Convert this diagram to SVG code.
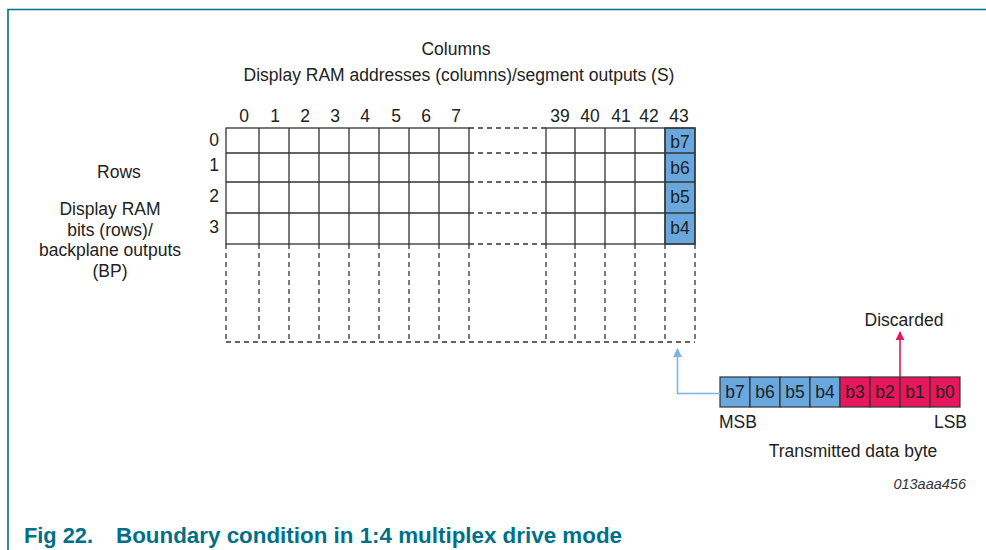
<svg xmlns="http://www.w3.org/2000/svg" width="986" height="550" viewBox="0 0 986 550">
<style>
text{font-family:"Liberation Sans",Arial,sans-serif;font-size:17.5px;fill:#222}
.m{text-anchor:middle}
.g{stroke:#333;stroke-width:1.3;fill:none}
.d{stroke:#333;stroke-width:1.3;fill:none;stroke-dasharray:5 4}
.blue{fill:#68a8de;stroke:#333;stroke-width:1.2}
.red{fill:#e6175c;stroke:#333;stroke-width:1.2}
.frame{stroke:#00708a;stroke-width:1.6;fill:none}
</style>
<defs>
<marker id="ab" viewBox="0 0 10 10" refX="9" refY="5" markerWidth="9" markerHeight="9" markerUnits="userSpaceOnUse" orient="auto"><path d="M0,0 L10,5 L0,10 z" fill="#7db4e4"/></marker>
<marker id="ar" viewBox="0 0 10 10" refX="9" refY="5" markerWidth="9" markerHeight="9" markerUnits="userSpaceOnUse" orient="auto"><path d="M0,0 L10,5 L0,10 z" fill="#e6175c"/></marker>
</defs>
<rect width="986" height="550" fill="#fff"/>
<path class="frame" d="M8,550 V9.5 H986"/>

<g id="titles">
<text class="m" x="456" y="55">Columns</text>
<text class="m" x="459" y="81">Display RAM addresses (columns)/segment outputs (S)</text>
</g>
<g id="col-labels">
<text class="m" x="244" y="122">0</text>
<text class="m" x="275" y="122">1</text>
<text class="m" x="305" y="122">2</text>
<text class="m" x="335" y="122">3</text>
<text class="m" x="365" y="122">4</text>
<text class="m" x="396" y="122">5</text>
<text class="m" x="426" y="122">6</text>
<text class="m" x="456" y="122">7</text>
<text class="m" x="560" y="122">39</text>
<text class="m" x="590" y="122">40</text>
<text class="m" x="621" y="122">41</text>
<text class="m" x="649" y="122">42</text>
<text class="m" x="679" y="122">43</text>
</g>
<g id="row-labels">
<text class="m" x="214" y="146">0</text>
<text class="m" x="214" y="171">1</text>
<text class="m" x="214" y="202">2</text>
<text class="m" x="214" y="233">3</text>
</g>
<g id="rows-title">
<text class="m" x="119" y="178">Rows</text>
<text class="m" x="110" y="215">Display RAM</text>
<text class="m" x="110" y="235.5">bits (rows)/</text>
<text class="m" x="110" y="256">backplane outputs</text>
<text class="m" x="110" y="276.5">(BP)</text>
</g>

<g id="ram-grid">
<rect class="blue" x="665" y="128" width="30" height="116"/>
<rect class="g" x="226" y="128" width="243" height="116"/>
<rect class="g" x="546" y="128" width="149" height="116"/>
<path class="g" d="M226,153H469M226,182H469M226,213H469M546,153H695M546,182H695M546,213H695
M259,128V244M289,128V244M319,128V244M349,128V244M379,128V244M409,128V244M439,128V244
M575,128V244M605,128V244M635,128V244M665,128V244"/>
<path class="d" d="M469,128H546M469,153H546M469,182H546M469,213H546M469,244H546
M226,244V342M259,244V342M289,244V342M319,244V342M349,244V342M379,244V342M409,244V342M439,244V342M469,244V342
M546,244V342M575,244V342M605,244V342M635,244V342M665,244V342M695,244V342M226,342H695"/>
<text class="m" x="680" y="148">b7</text>
<text class="m" x="680" y="174">b6</text>
<text class="m" x="680" y="203">b5</text>
<text class="m" x="680" y="234">b4</text>
</g>

<g id="data-byte">
<rect class="blue" x="720" y="377" width="30" height="30"/>
<rect class="blue" x="750" y="377" width="30" height="30"/>
<rect class="blue" x="780" y="377" width="30" height="30"/>
<rect class="blue" x="810" y="377" width="30" height="30"/>
<rect class="red" x="840" y="377" width="30" height="30"/>
<rect class="red" x="870" y="377" width="30" height="30"/>
<rect class="red" x="900" y="377" width="30" height="30"/>
<rect class="red" x="930" y="377" width="30" height="30"/>
<text class="m" x="735" y="398">b7</text>
<text class="m" x="765" y="398">b6</text>
<text class="m" x="795" y="398">b5</text>
<text class="m" x="825" y="398">b4</text>
<text class="m" x="855" y="398">b3</text>
<text class="m" x="885" y="398">b2</text>
<text class="m" x="915" y="398">b1</text>
<text class="m" x="945" y="398">b0</text>
<text x="719" y="428">MSB</text>
<text x="967" y="428" text-anchor="end">LSB</text>
<text class="m" x="853" y="457">Transmitted data byte</text>
</g>
<g id="discarded">
<text class="m" x="904" y="326">Discarded</text>
</g>

<g id="connectors">
<path d="M720,393.5H677.5V349" fill="none" stroke="#7db4e4" stroke-width="1.6" marker-end="url(#ab)"/>
<path d="M900,377V332" fill="none" stroke="#e6175c" stroke-width="1.6" marker-end="url(#ar)"/>
</g>

<g id="caption">
<text x="966" y="489" text-anchor="end" style="font-style:italic;font-size:14.5px;fill:#333">013aaa456</text>
<text x="24" y="543" style="font-weight:bold;font-size:22.5px;fill:#00708a" textLength="69" lengthAdjust="spacingAndGlyphs">Fig 22.</text>
<text x="116" y="543" style="font-weight:bold;font-size:22.5px;fill:#00708a" textLength="506" lengthAdjust="spacingAndGlyphs">Boundary condition in 1:4 multiplex drive mode</text>
</g>
</svg>
